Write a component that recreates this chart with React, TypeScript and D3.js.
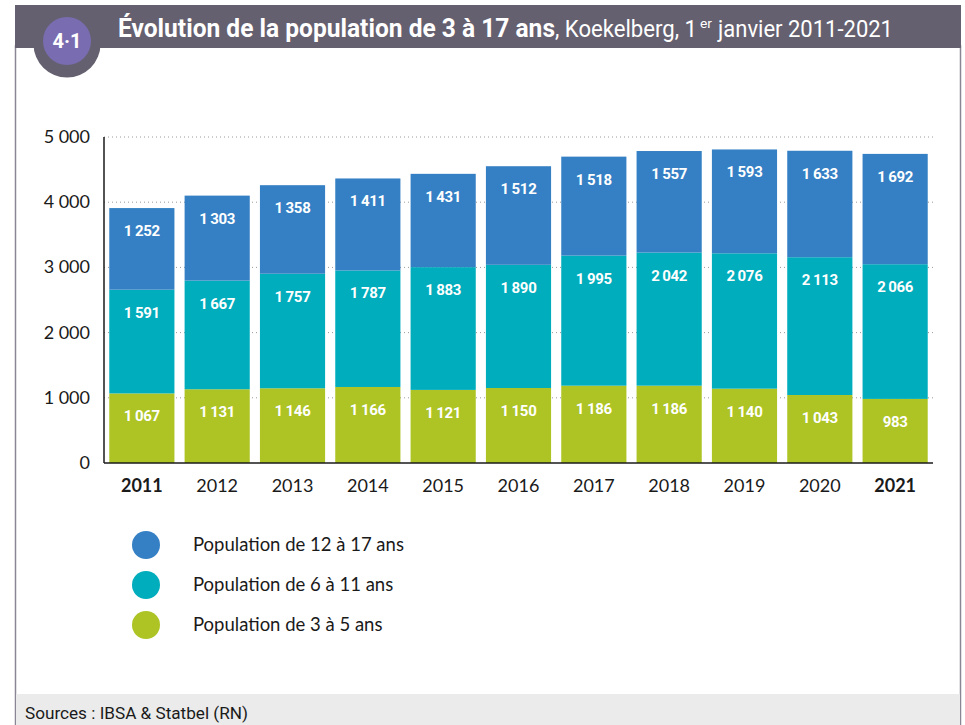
import React, { useEffect } from "react";
import * as d3 from "d3";

const years = ["2011", "2012", "2013", "2014", "2015", "2016", "2017", "2018", "2019", "2020", "2021"];
const boldYears = ["2011", "2021"];
const pop3to5 = [1067, 1131, 1146, 1166, 1121, 1150, 1186, 1186, 1140, 1043, 983];
const pop6to11 = [1591, 1667, 1757, 1787, 1883, 1890, 1995, 2042, 2076, 2113, 2066];
const pop12to17 = [1252, 1303, 1358, 1411, 1431, 1512, 1518, 1557, 1593, 1633, 1692];
const seriesNames = ["Population de 3 à 5 ans", "Population de 6 à 11 ans", "Population de 12 à 17 ans"];
const seriesColors = ["#adc424", "#00adbc", "#3580c4"];
const yTicks = [0, 1000, 2000, 3000, 4000, 5000];

const W = 965;
const H = 725;
const fmt = (v: number) => d3.format(",")(v).replace(/,/g, "\u2009");
const tickFmt = (v: number) => d3.format(",")(v).replace(/,/g, " ");

export default function App() {
  useEffect(() => {
    document.body.style.margin = "0";
  }, []);

  const x = d3.scaleBand<string>().domain(years).range([104, 933]).paddingInner(0.135).paddingOuter(0.07);
  const y = d3.scaleLinear().domain([0, 5000]).range([463, 137]);

  const rows = years.map((yr, i) => ({ year: yr, a: pop3to5[i], b: pop6to11[i], c: pop12to17[i] }));
  const stack = d3.stack<any>().keys(["a", "b", "c"]);
  const series = stack(rows);

  const labelFont = "Roboto, 'Noto Sans', sans-serif";
  const bodyFont = "Lato, 'Open Sans', sans-serif";

  return (
    <svg width={W} height={H} style={{ display: "block" }}>
      <rect x={0} y={0} width={W} height={H} fill="#ffffff" />
      {/* frame */}
      <line x1={15.5} y1={45} x2={15.5} y2={H} stroke="#8a8694" strokeWidth={1.5} />
      <line x1={960.5} y1={45} x2={960.5} y2={H} stroke="#8a8694" strokeWidth={1.5} />
      {/* header */}
      <rect x={15} y={5} width={946} height={43} fill="#65606f" />
      <circle cx={67} cy={44} r={33.5} fill="#65606f" />
      <circle cx={67} cy={41} r={24} fill="#7a6cb0" />
      <text x={67} y={48} textAnchor="middle" fill="#ffffff" fontFamily={labelFont} fontWeight="bold" fontSize={20}>
        4·1
      </text>
      <text x={118} y={37} fill="#ffffff" fontFamily={labelFont} fontWeight="bold" fontSize={25} textLength={437} lengthAdjust="spacingAndGlyphs">
        Évolution de la population de 3 à 17 ans
      </text>
      <text x={555} y={37} fill="#ffffff" fontFamily={labelFont} fontSize={23} textLength={142} lengthAdjust="spacingAndGlyphs">
        , Koekelberg, 1
      </text>
      <text x={700} y={28} fill="#ffffff" fontFamily={labelFont} fontSize={13} textLength={12} lengthAdjust="spacingAndGlyphs">
        er
      </text>
      <text x={718} y={37} fill="#ffffff" fontFamily={labelFont} fontSize={23} textLength={175} lengthAdjust="spacingAndGlyphs">
        janvier 2011-2021
      </text>

      {/* gridlines */}
      {yTicks.filter((t) => t > 0).map((t) => (
        <line key={t} x1={104} x2={933} y1={y(t)} y2={y(t)} stroke="#9a9a9a" strokeWidth={1} strokeDasharray="1,3" />
      ))}

      {/* bars */}
      {series.map((s, si) => (
        <g key={si}>
          {s.map((d: any, i: number) => (
            <rect
              key={i}
              x={x(years[i])}
              y={y(d[1])}
              width={x.bandwidth()}
              height={y(d[0]) - y(d[1])}
              fill={seriesColors[si]}
            />
          ))}
        </g>
      ))}
      {/* value labels */}
      {series.map((s, si) => (
        <g key={"l" + si}>
          {s.map((d: any, i: number) => (
            <text
              key={i}
              x={(x(years[i]) as number) + x.bandwidth() / 2}
              y={y(d[1]) + 28}
              textAnchor="middle"
              fill="#ffffff"
              fontFamily={labelFont}
              fontWeight="bold"
              fontSize={15}
              letterSpacing={-0.3}
            >
              {fmt(d[1] - d[0])}
            </text>
          ))}
        </g>
      ))}

      {/* axes */}
      <line x1={104} x2={104} y1={137} y2={463} stroke="#1a1a1a" strokeWidth={1.5} />
      <line x1={104} x2={933} y1={463} y2={463} stroke="#1a1a1a" strokeWidth={1.5} />
      {yTicks.map((t) => (
        <text key={t} x={90} y={y(t) + 6} textAnchor="end" fill="#1a1a1a" fontFamily={bodyFont} fontSize={18}>
          {tickFmt(t)}
        </text>
      ))}
      {years.map((yr) => (
        <text
          key={yr}
          x={(x(yr) as number) + x.bandwidth() / 2}
          y={492}
          textAnchor="middle"
          fill="#1a1a1a"
          fontFamily={bodyFont}
          fontSize={18}
          fontWeight={boldYears.includes(yr) ? "bold" : "normal"}
        >
          {yr}
        </text>
      ))}

      {/* legend */}
      {[2, 1, 0].map((si, k) => (
        <g key={si} transform={`translate(0, ${545 + k * 40})`}>
          <circle cx={146} cy={0} r={14} fill={seriesColors[si]} />
          <text x={193} y={6} fill="#1a1a1a" fontFamily={bodyFont} fontSize={18.5}>
            {seriesNames[si]}
          </text>
        </g>
      ))}

      {/* footer */}
      <rect x={16} y={694} width={944} height={31} fill="#ebebeb" />
      <text x={25} y={719} fill="#1a1a1a" fontFamily={labelFont} fontSize={16} textLength={223} lengthAdjust="spacingAndGlyphs">
        Sources : IBSA &amp; Statbel (RN)
      </text>
    </svg>
  );
}
